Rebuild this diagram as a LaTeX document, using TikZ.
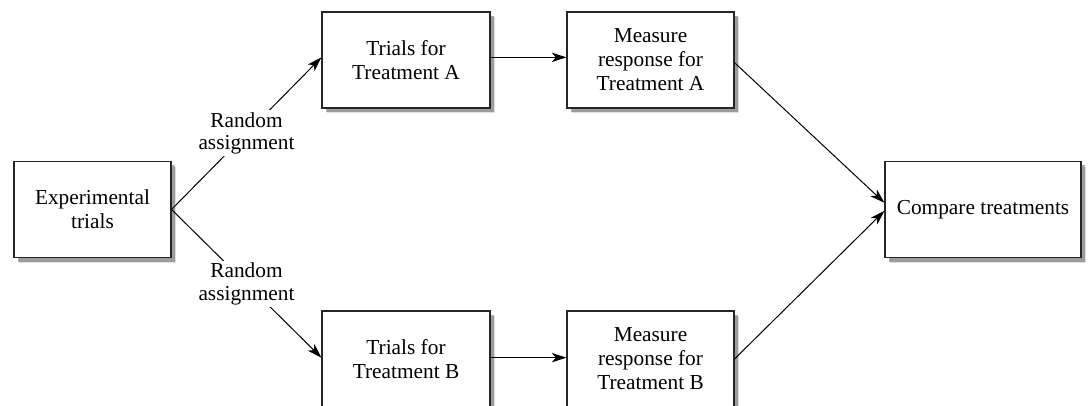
\documentclass[tikz,border=0pt]{standalone}
\usepackage{fontspec}
\setmainfont{Liberation Serif}
\usetikzlibrary{arrows.meta,shadows}
\begin{document}
\begin{tikzpicture}[x=0.75pt,y=-0.75pt,
  box/.style={draw=black!85,line width=0.8pt,fill=white,align=center,inner sep=0pt,
    font=\fontsize{16pt}{18pt}\selectfont,minimum height=72pt,
    drop shadow={shadow xshift=4pt,shadow yshift=-4pt,fill=black!25},
    drop shadow={shadow xshift=3pt,shadow yshift=-3pt,fill=black!65}},
  conn/.style={line width=0.75pt,-{Stealth[length=11pt,width=7pt,inset=3pt]}},
  lbl/.style={fill=white,align=center,inner sep=1.5pt,font=\fontsize{16pt}{17pt}\selectfont}]
\useasboundingbox (0,0) rectangle (1088,406);
\clip (0,0) rectangle (1088,406);
\node[box,minimum width=117.75pt] (exp) at (92.5,209.5) {Experimental\\trials};
\node[box,minimum width=126pt] (ta) at (406,60) {Trials for\\Treatment A};
\node[box,minimum width=125.25pt] (ma) at (650.5,60) {Measure\\response for\\Treatment A};
\node[box,minimum width=126pt] (tb) at (406,359) {Trials for\\Treatment B};
\node[box,minimum width=125.25pt] (mb) at (650.5,359) {Measure\\response for\\Treatment B};
\node[box,minimum width=147pt] (cmp) at (983,209.5) {Compare treatments};
\draw[conn] (exp.east) -- node[lbl]{Random\\assignment} ([yshift=2pt]ta.west);
\draw[conn] (exp.east) -- node[lbl]{Random\\assignment} ([yshift=1pt]tb.west);
\draw[conn] ([yshift=2pt]ta.east) -- ([yshift=2pt]ma.west);
\draw[conn] ([yshift=1pt]tb.east) -- ([yshift=1pt]mb.west);
\draw[conn] ([yshift=-2pt]ma.east) -- ([yshift=5pt]cmp.west);
\draw[conn] (mb.east) -- ([yshift=-1pt]cmp.west);
\end{tikzpicture}
\end{document}
